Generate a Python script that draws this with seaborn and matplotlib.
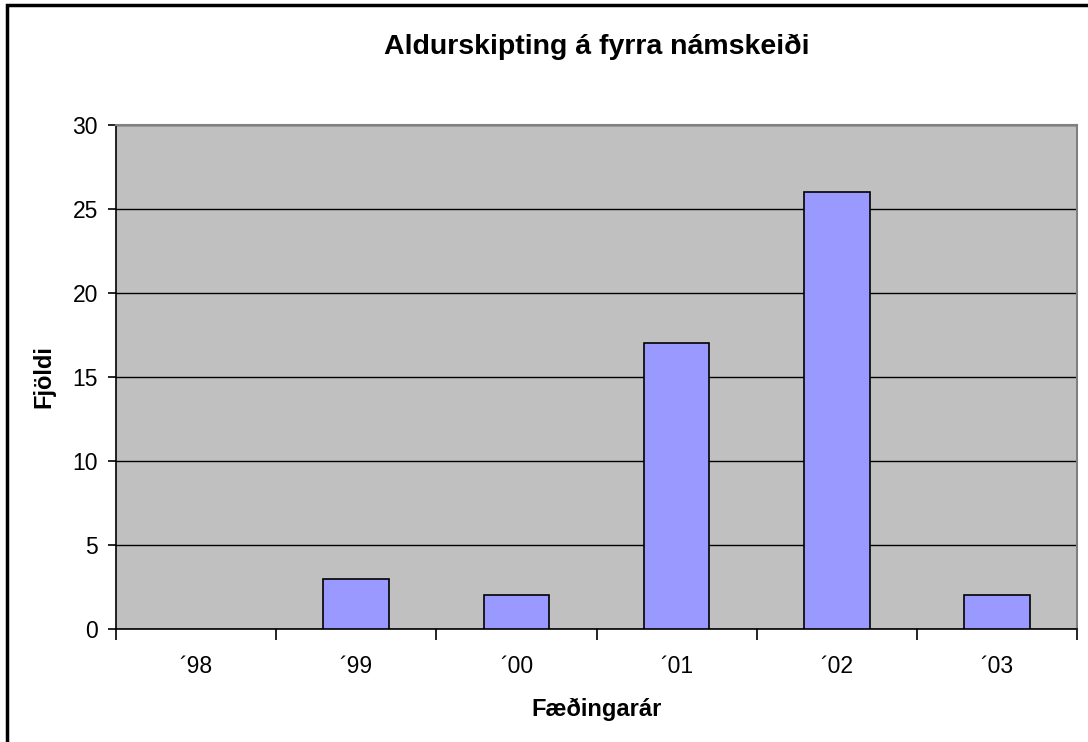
import matplotlib
matplotlib.use('Agg')
import matplotlib.pyplot as plt
import seaborn as sns
import pandas as pd
from matplotlib.patches import Rectangle

years = ['\u00b498', '\u00b499', '\u00b400', '\u00b401', '\u00b402', '\u00b403']
counts = [0, 3, 2, 17, 26, 2]

df = pd.DataFrame({'Fæðingarár': years, 'Fjöldi': counts})

sns.set_style('white')
plt.rcParams['font.family'] = ['Liberation Sans', 'DejaVu Sans']
plt.rcParams['text.color'] = 'black'
plt.rcParams['axes.labelcolor'] = 'black'
plt.rcParams['xtick.color'] = 'black'
plt.rcParams['ytick.color'] = 'black'

fig = plt.figure(figsize=(10.88, 7.42), dpi=100)
W, H = 1088, 742
ax = fig.add_axes([116 / W, 1 - 629 / H, (1077 - 116) / W, (629 - 125) / H])
ax.set_facecolor('#C0C0C0')

sns.barplot(data=df, x='Fæðingarár', y='Fjöldi', color='#9999FF', edgecolor='black',
            linewidth=1.2, width=0.41, saturation=1, ax=ax, zorder=3)
# empty categories get no outline
for p in ax.patches:
    if p.get_height() == 0:
        p.set_visible(False)

ax.set_xlim(-0.5, 5.5)
ax.set_ylim(0, 30)
ax.set_yticks(range(0, 31, 5))
ax.grid(axis='y', color='black', linewidth=1, zorder=1)
ax.set_axisbelow(True)

for side in ['top', 'right']:
    ax.spines[side].set_color('#808080')
    ax.spines[side].set_linewidth(1.5)
for side in ['left', 'bottom']:
    ax.spines[side].set_color('black')
    ax.spines[side].set_linewidth(1.2)

# category labels centred, tick marks between categories
ax.set_xticks(range(len(years)))
ax.set_xticklabels(years, fontsize=16.5)
ax.tick_params(axis='x', length=0, pad=19)
ax.set_xticks([i - 0.5 for i in range(len(years) + 1)], minor=True)
ax.tick_params(axis='x', which='minor', length=8, width=1.2, color='black', direction='out', bottom=True)
ax.tick_params(axis='y', labelsize=16.5, length=6, width=1.2, color='black', direction='out', left=True, pad=7)

ax.set_xlabel('Fæðingarár', fontsize=17, fontweight='bold', labelpad=14)
ax.set_ylabel('Fjöldi', fontsize=17, fontweight='bold', labelpad=12)
fig.text((116 + 1077) / 2 / W, 1 - 47 / H, 'Aldurskipting á fyrra námskeiði',
         fontsize=20.5, fontweight='bold', ha='center', va='center')

# outer chart frame (only top and left visible in the reference)
fig.patches.append(Rectangle((7 / W, -0.05), 1.1, 1 - 5 / H + 0.05, transform=fig.transFigure,
                             fill=False, edgecolor='black', linewidth=2.5, zorder=10))

fig.savefig('out.png', dpi=100)
